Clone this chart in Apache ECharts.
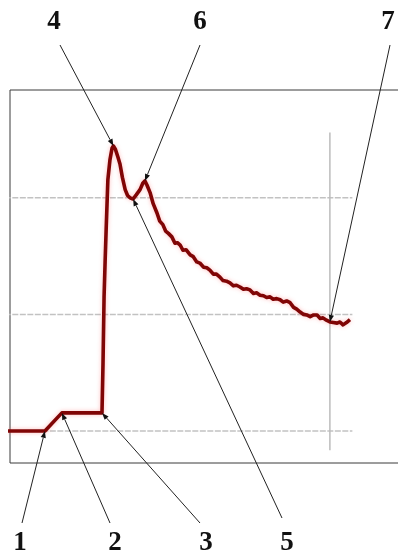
<!DOCTYPE html>
<html>
<head>
<meta charset="utf-8">
<script src="https://cdn.jsdelivr.net/npm/echarts@6/dist/echarts.min.js"></script>
<style>
  html, body { margin: 0; padding: 0; background: #ffffff; }
  #chart { width: 398px; height: 555px; }
</style>
</head>
<body>
<div id="chart"></div>
<script>
// Recorded trace: time (s) and signal level
const timeS = [0, 11.1, 16.0, 27.0, 27.6, 27.9, 28.2, 28.5, 28.8, 29.3, 29.9, 30.5, 30.9, 31.5, 32.2, 32.8, 33.5, 34.3, 35.0, 35.7, 36.6, 37.5, 38.6, 39.4, 40.0, 40.6, 41.5, 42.4, 43.5, 44.3, 45.2, 46.0, 46.8, 47.8, 48.7, 49.4, 50.2, 51.0, 51.9, 53.1, 54.0, 55.0, 55.9, 57.0, 57.9, 58.8, 59.8, 60.7, 61.7, 62.6, 63.6, 64.6, 65.6, 66.5, 67.5, 68.5, 69.4, 70.4, 71.4, 72.3, 73.3, 74.3, 75.2, 76.2, 77.1, 78.1, 79.1, 80.0, 81.0, 82.0, 83.0, 83.9, 84.9, 85.9, 86.8, 87.8, 88.8, 89.8, 90.7, 91.5, 92.5, 93.5, 94.5, 95.6, 96.4, 97.3, 98.3, 99.3];
const signal = [20.0, 20.0, 23.1, 23.1, 23.1, 31.7, 43.0, 49.0, 54.5, 63.1, 66.5, 68.5, 68.9, 68.3, 67.0, 65.8, 63.5, 61.4, 60.4, 60.0, 59.8, 60.5, 61.4, 62.5, 62.9, 62.2, 60.9, 59.0, 57.4, 56.0, 55.4, 54.3, 53.9, 53.3, 52.2, 52.3, 51.9, 51.0, 51.1, 50.2, 49.9, 49.0, 48.8, 48.1, 48.0, 47.6, 46.9, 46.9, 46.4, 45.8, 45.7, 45.4, 44.9, 45.0, 44.7, 44.3, 44.4, 44.2, 43.6, 43.7, 43.3, 43.2, 42.9, 43.0, 42.6, 42.7, 42.5, 42.1, 42.3, 42.0, 41.2, 40.9, 40.4, 40.0, 39.9, 39.6, 39.9, 39.9, 39.3, 39.4, 39.0, 38.7, 38.6, 38.5, 38.7, 38.2, 38.6, 39.1];

// Horizontal reference levels and their horizontal extent
const gridLevels = [20, 40, 60];
const gridSpan = [-0.5, 100];

// Vertical cursor
const cursorTime = 93.5;
const cursorRange = [16.7, 71.2];

// Numbered markers: label, time of the marked point on the trace
const markerLabels = ['1', '2', '3', '4', '5', '6', '7'];
const markerTimes = [11.1, 16.0, 27.6, 30.9, 36.6, 40.0, 93.5];

// Label placement (label centre, start of leader line)
const labelPlacement = {
  '1': { text: [20, 543], from: [22, 523] },
  '2': { text: [115, 543], from: [110, 523] },
  '3': { text: [206, 543], from: [200, 523] },
  '5': { text: [287, 543], from: [282, 518] },
  '4': { text: [54, 22], from: [60, 45] },
  '6': { text: [200, 22], from: [200, 45] },
  '7': { text: [388, 22], from: [390, 45] }
};

const chart = echarts.init(document.getElementById('chart'));

const traceData = timeS.map((t, i) => [t, signal[i]]);

const levelSeries = gridLevels.map(level => ({
  type: 'line',
  data: [[gridSpan[0], level], [gridSpan[1], level]],
  symbol: 'none',
  silent: true,
  clip: false,
  z: 1,
  lineStyle: { color: '#c2c2c2', width: 1.5, type: [6, 1.5] }
}));

const cursorSeries = {
  type: 'line',
  data: [[cursorTime, cursorRange[0]], [cursorTime, cursorRange[1]]],
  symbol: 'none',
  silent: true,
  z: 1,
  lineStyle: { color: '#bcbcbc', width: 1.5 }
};

const traceSeries = {
  type: 'line',
  data: traceData,
  symbol: 'none',
  clip: false,
  z: 3,
  lineStyle: {
    color: '#800505',
    width: 3.6,
    join: 'round',
    shadowColor: 'rgba(255,110,110,0.45)',
    shadowBlur: 4
  }
};

chart.setOption({
  animation: false,
  backgroundColor: '#ffffff',
  grid: {
    show: true,
    left: 10,
    top: 90,
    width: 415,
    height: 373,
    outerBoundsMode: 'none',
    containLabel: false,
    borderColor: '#3a3a3a',
    borderWidth: 1,
    backgroundColor: 'transparent'
  },
  xAxis: {
    type: 'value',
    min: 1,
    max: 121,
    axisLine: { show: false },
    axisTick: { show: false },
    axisLabel: { show: false },
    splitLine: { show: false }
  },
  yAxis: {
    type: 'value',
    min: 14.5,
    max: 78.5,
    axisLine: { show: false },
    axisTick: { show: false },
    axisLabel: { show: false },
    splitLine: { show: false }
  },
  series: [...levelSeries, cursorSeries, traceSeries]
});

// Leader lines with arrowheads pointing at the marked points of the trace
const graphics = [];
markerLabels.forEach((label, k) => {
  const t = markerTimes[k];
  const idx = timeS.indexOf(t);
  const tip = chart.convertToPixel({ gridIndex: 0 }, [t, signal[idx]]);
  const place = labelPlacement[label];
  const from = place.from;
  const dx = tip[0] - from[0], dy = tip[1] - from[1];
  const len = Math.sqrt(dx * dx + dy * dy);
  const ux = dx / len, uy = dy / len;
  const nx = -uy, ny = ux;
  const headLen = 7, headHalf = 2.6;
  const base = [tip[0] - ux * headLen, tip[1] - uy * headLen];
  graphics.push({
    type: 'line',
    shape: { x1: from[0], y1: from[1], x2: base[0], y2: base[1] },
    style: { stroke: '#222', lineWidth: 1 },
    z: 10
  });
  graphics.push({
    type: 'polygon',
    shape: {
      points: [
        tip,
        [base[0] + nx * headHalf, base[1] + ny * headHalf],
        [base[0] - nx * headHalf, base[1] - ny * headHalf]
      ]
    },
    style: { fill: '#111' },
    z: 10
  });
  graphics.push({
    type: 'text',
    x: place.text[0],
    y: place.text[1],
    style: {
      text: label,
      fill: '#111',
      font: 'bold 27px "Liberation Serif", "DejaVu Serif", serif',
      textAlign: 'center',
      textVerticalAlign: 'middle'
    },
    z: 10
  });
});

chart.setOption({ graphic: graphics });
</script>
</body>
</html>
